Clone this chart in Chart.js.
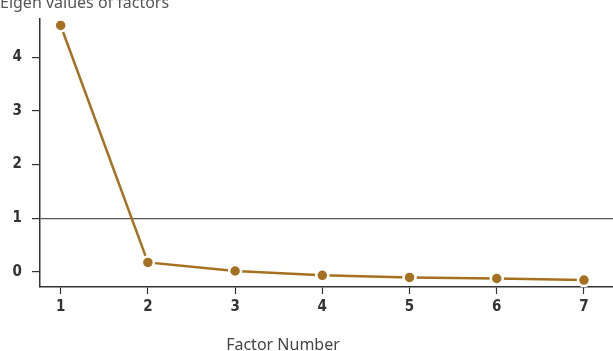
<!DOCTYPE html>
<html>
<head>
<meta charset="utf-8">
<script src="https://cdn.jsdelivr.net/npm/chart.js@4.4.0/dist/chart.umd.min.js"></script>
<style>
  html, body { margin: 0; padding: 0; background: #fff; overflow: hidden; }
  #wrap { position: relative; width: 613px; height: 351px; }
  #yTitle { position: absolute; left: 0; top: -9px; font: 16px "Noto Sans", sans-serif; color: #555; white-space: nowrap; }
  #xTitle { position: absolute; left: 283px; top: 333px; transform: translateX(-50%); font: 16px "Noto Sans", sans-serif; color: #444; white-space: nowrap; }
</style>
</head>
<body>
<div id="wrap">
  <canvas id="scree" width="613" height="351"></canvas>
  <div id="yTitle">Eigen values of factors</div>
  <div id="xTitle">Factor Number</div>
</div>
<script>
const factors = [1, 2, 3, 4, 5, 6, 7];
const eigenValues = [4.59, 0.18, 0.02, -0.06, -0.10, -0.12, -0.15];
const yTicks = [0, 1, 2, 3, 4];
const cutoff = 1;

const lineColor = '#a5701f';
const tickFont = { family: 'DejaVu Sans Condensed', size: 15, weight: 'bold' };

const ctx = document.getElementById('scree');
new Chart(ctx, {
  type: 'line',
  data: {
    datasets: [{
      data: factors.map((f, i) => ({ x: f, y: eigenValues[i] })),
      borderColor: lineColor,
      borderWidth: 2.5,
      pointBackgroundColor: lineColor,
      pointBorderColor: '#fff',
      pointBorderWidth: 2.5,
      pointRadius: 6,
      tension: 0
    }]
  },
  options: {
    responsive: false,
    animation: false,
    layout: { autoPadding: false, padding: { top: 18, right: 0, left: 0, bottom: 0 } },
    plugins: { legend: { display: false }, tooltip: { enabled: false } },
    scales: {
      x: {
        type: 'linear',
        min: 0.763,
        max: 7.333,
        afterBuildTicks: s => { s.ticks = factors.map(v => ({ value: v })); },
        afterFit: s => { s.height = 64; },
        border: { color: '#333', width: 1.5 },
        grid: { drawOnChartArea: false, tickLength: 7, tickColor: '#333', tickWidth: 1.2 },
        ticks: { color: '#333', font: tickFont, padding: 4 }
      },
      y: {
        min: -0.278,
        max: 4.71,
        afterBuildTicks: s => { s.ticks = yTicks.map(v => ({ value: v })); },
        afterFit: s => { s.width = 40; },
        border: { color: '#333', width: 1.5 },
        grid: {
          drawOnChartArea: true,
          color: c => (c.tick && c.tick.value === cutoff) ? '#555' : 'rgba(0,0,0,0)',
          lineWidth: 1.2,
          tickLength: 8,
          tickColor: '#333',
          tickWidth: 1.2
        },
        ticks: { color: '#333', font: tickFont, padding: 10 }
      }
    }
  }
});
</script>
</body>
</html>
